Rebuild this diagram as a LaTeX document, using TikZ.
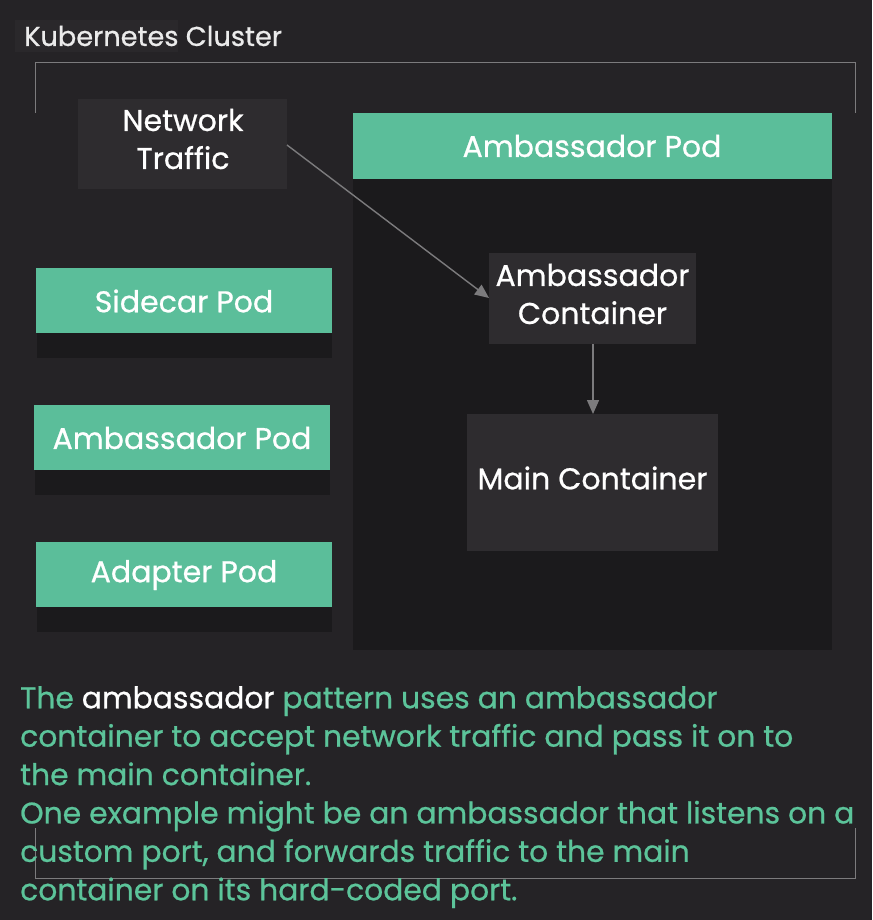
\documentclass[tikz,border=0pt]{standalone}
\usepackage{fontspec}
\setmainfont{Poppins}[FakeBold=0.7]
\usetikzlibrary{arrows.meta}
\definecolor{bgc}{HTML}{252326}
\definecolor{inner}{HTML}{1B1A1C}
\definecolor{boxc}{HTML}{2E2C2F}
\definecolor{podgreen}{HTML}{5BBE9A}
\definecolor{linec}{HTML}{7C7B7D}
\definecolor{txtgreen}{HTML}{5CC49A}
\definecolor{labelbg}{HTML}{2A282B}
\tikzset{
  greenbar/.style={fill=podgreen, draw=none},
  shadowbar/.style={fill=inner, draw=none},
  darkbox/.style={fill=boxc, draw=none},
  lbl/.style={text=white, font=\fontsize{30}{38}\selectfont, align=center, inner sep=0pt},
  conn/.style={draw=linec, line width=1.4pt, -{Triangle[length=14pt,width=12pt]}},
  bracket/.style={draw=linec, line width=1pt}
}
\begin{document}
\begin{tikzpicture}[x=1pt,y=-1pt]
\fill[bgc] (0,0) rectangle (872,920);
\useasboundingbox (0,0) rectangle (872,920);
% cluster label
\fill[labelbg] (15,20) rectangle (178,52);
\node[text=white!92!black, font=\fontsize{27.2}{30}\selectfont, anchor=west, inner sep=0pt] (clusterlbl) at (24,36) {Kubernetes Cluster};
% cluster brackets
\draw[bracket] (35,113) -- (35,63) -- (855,63) -- (855,113);
\draw[bracket] (35,828) -- (35,878) -- (855,878) -- (855,828);
% network traffic
\fill[darkbox] (78,99) rectangle (287,189);
\node[lbl] (net) at (183,139) {Network\\Traffic};
\coordinate (netE) at (287,145);
% big ambassador pod
\fill[inner] (353,179) rectangle (832,650);
\fill[greenbar] (353,113) rectangle (832,179);
\node[lbl] (apod) at (592,146) {Ambassador Pod};
% ambassador container
\fill[darkbox] (489,253) rectangle (696,344);
\node[lbl] (acont) at (592.5,294) {Ambassador\\Container};
\coordinate (acW) at (489,298);
\coordinate (acS) at (593,344);
% main container
\fill[darkbox] (467,414) rectangle (718,551);
\node[lbl] (main) at (592.5,478) {Main Container};
\coordinate (mcN) at (593,414);
% connectors
\draw[conn] (netE) -- (acW);
\draw[conn] (acS) -- (mcN);
% left pods
\fill[shadowbar] (37,333) rectangle (332,358);
\fill[greenbar] (36,268) rectangle (332,333);
\node[lbl] (side) at (184,301) {Sidecar Pod};
\fill[shadowbar] (35,470) rectangle (330,495);
\fill[greenbar] (34,405) rectangle (330,470);
\node[lbl] (amb2) at (182,438) {Ambassador Pod};
\fill[shadowbar] (37,607) rectangle (332,632);
\fill[greenbar] (36,542) rectangle (332,607);
\node[lbl] (adap) at (184,575) {Adapter Pod};
% description
\node[anchor=north west, text=txtgreen, align=left, inner sep=0pt,
      font=\fontsize{29.8}{38.4}\selectfont] (desc) at (20,686)
{The \textcolor{white}{ambassador} pattern uses an ambassador\\
container to accept network traffic and pass it on to\\
the main container.\\
One example might be an ambassador that listens on a\\
custom port, and forwards traffic to the main\\
container on its hard-coded port.};
\end{tikzpicture}
\end{document}
